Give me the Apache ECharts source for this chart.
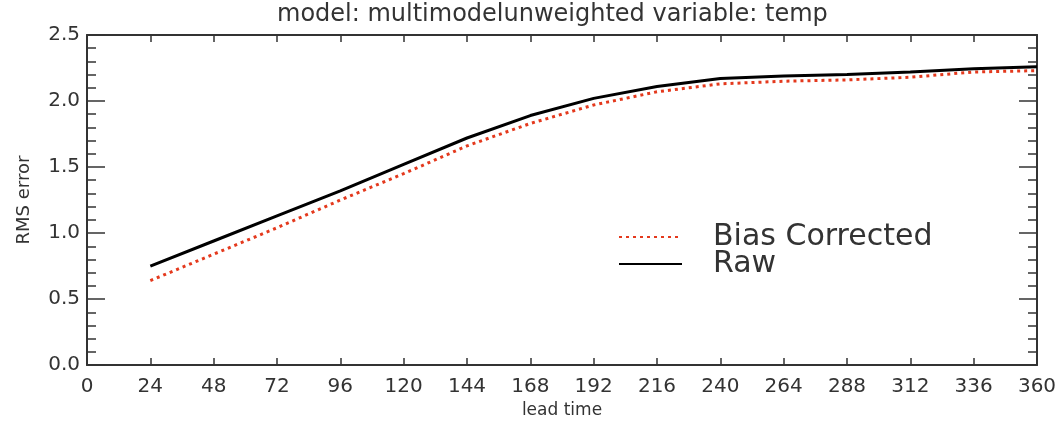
<!DOCTYPE html>
<html>
<head>
<meta charset="utf-8">
<script src="https://cdn.jsdelivr.net/npm/echarts@6/dist/echarts.min.js"></script>
<style>
  html, body { margin: 0; padding: 0; background: #fff; }
  #chart { width: 1060px; height: 424px; }
</style>
</head>
<body>
<div id="chart"></div>
<script>
// lead time in hours
const leadTimes = [24, 48, 72, 96, 120, 144, 168, 192, 216, 240, 264, 288, 312, 336, 360];
const rawRms = [0.75, 0.94, 1.13, 1.32, 1.52, 1.72, 1.89, 2.02, 2.11, 2.17, 2.19, 2.20, 2.22, 2.245, 2.26];
const biasCorrectedRms = [0.64, 0.84, 1.04, 1.25, 1.45, 1.66, 1.83, 1.97, 2.07, 2.13, 2.15, 2.16, 2.18, 2.22, 2.23];

const axisColor = '#333';
const font = 'DejaVu Sans';

const chart = echarts.init(document.getElementById('chart'));

const xCommon = {
  type: 'value',
  min: 0,
  max: 360,
  interval: 24,
  axisLine: { show: true, onZero: false, lineStyle: { color: axisColor, width: 2 } },
  axisTick: { show: true, inside: true, length: 7, lineStyle: { color: axisColor, width: 1.5 } },
  splitLine: { show: false }
};

const yCommon = {
  type: 'value',
  min: 0,
  max: 2.5,
  interval: 0.5,
  axisLine: { show: true, onZero: false, lineStyle: { color: axisColor, width: 2 } },
  axisTick: { show: true, inside: true, length: 18, lineStyle: { color: axisColor, width: 1.5 } },
  minorTick: { show: true, splitNumber: 5, length: 9, lineStyle: { color: axisColor, width: 1.5 } },
  splitLine: { show: false }
};

chart.setOption({
  backgroundColor: '#fff',
  animation: false,
  title: {
    text: 'model: multimodelunweighted variable: temp',
    left: 272,
    top: -2,
    textStyle: { fontFamily: font, fontSize: 24, fontWeight: 'normal', color: '#333' }
  },
  grid: { left: 87, right: 23, top: 35, bottom: 55 },
  legend: {
    orient: 'vertical',
    left: 613,
    top: 217,
    itemWidth: 63,
    itemHeight: 14,
    itemGap: -3,
    itemStyle: { opacity: 0 },
    textStyle: { fontFamily: font, fontSize: 30, lineHeight: 27, color: '#333', padding: [0, 0, 0, 26] },
    data: ['Bias Corrected', 'Raw']
  },
  xAxis: [
    Object.assign({}, xCommon, {
      position: 'bottom',
      name: 'lead time',
      nameLocation: 'middle',
      nameGap: 34,
      nameTextStyle: { fontFamily: font, fontSize: 17, color: '#333' },
      axisLabel: { show: true, margin: 12, fontFamily: font, fontSize: 20, color: '#333' }
    }),
    Object.assign({}, xCommon, {
      position: 'top',
      axisLabel: { show: false }
    })
  ],
  yAxis: [
    Object.assign({}, yCommon, {
      position: 'left',
      name: 'RMS error',
      nameLocation: 'middle',
      nameGap: 54,
      nameTextStyle: { fontFamily: font, fontSize: 18, color: '#333' },
      axisLabel: {
        show: true,
        margin: 7,
        fontFamily: font,
        fontSize: 20,
        color: '#333',
        formatter: (v) => v.toFixed(1)
      }
    }),
    Object.assign({}, yCommon, {
      position: 'right',
      axisLabel: { show: false }
    })
  ],
  series: [
    {
      name: 'Bias Corrected',
      type: 'line',
      symbol: 'none',
      color: '#e4391d',
      lineStyle: { color: '#e4391d', width: 3, type: [3, 4] },
      data: leadTimes.map((t, i) => [t, biasCorrectedRms[i]]),
      z: 2
    },
    {
      name: 'Raw',
      type: 'line',
      symbol: 'none',
      color: '#000',
      lineStyle: { color: '#000', width: 3 },
      data: leadTimes.map((t, i) => [t, rawRms[i]]),
      z: 3
    }
  ]
});
</script>
</body>
</html>
